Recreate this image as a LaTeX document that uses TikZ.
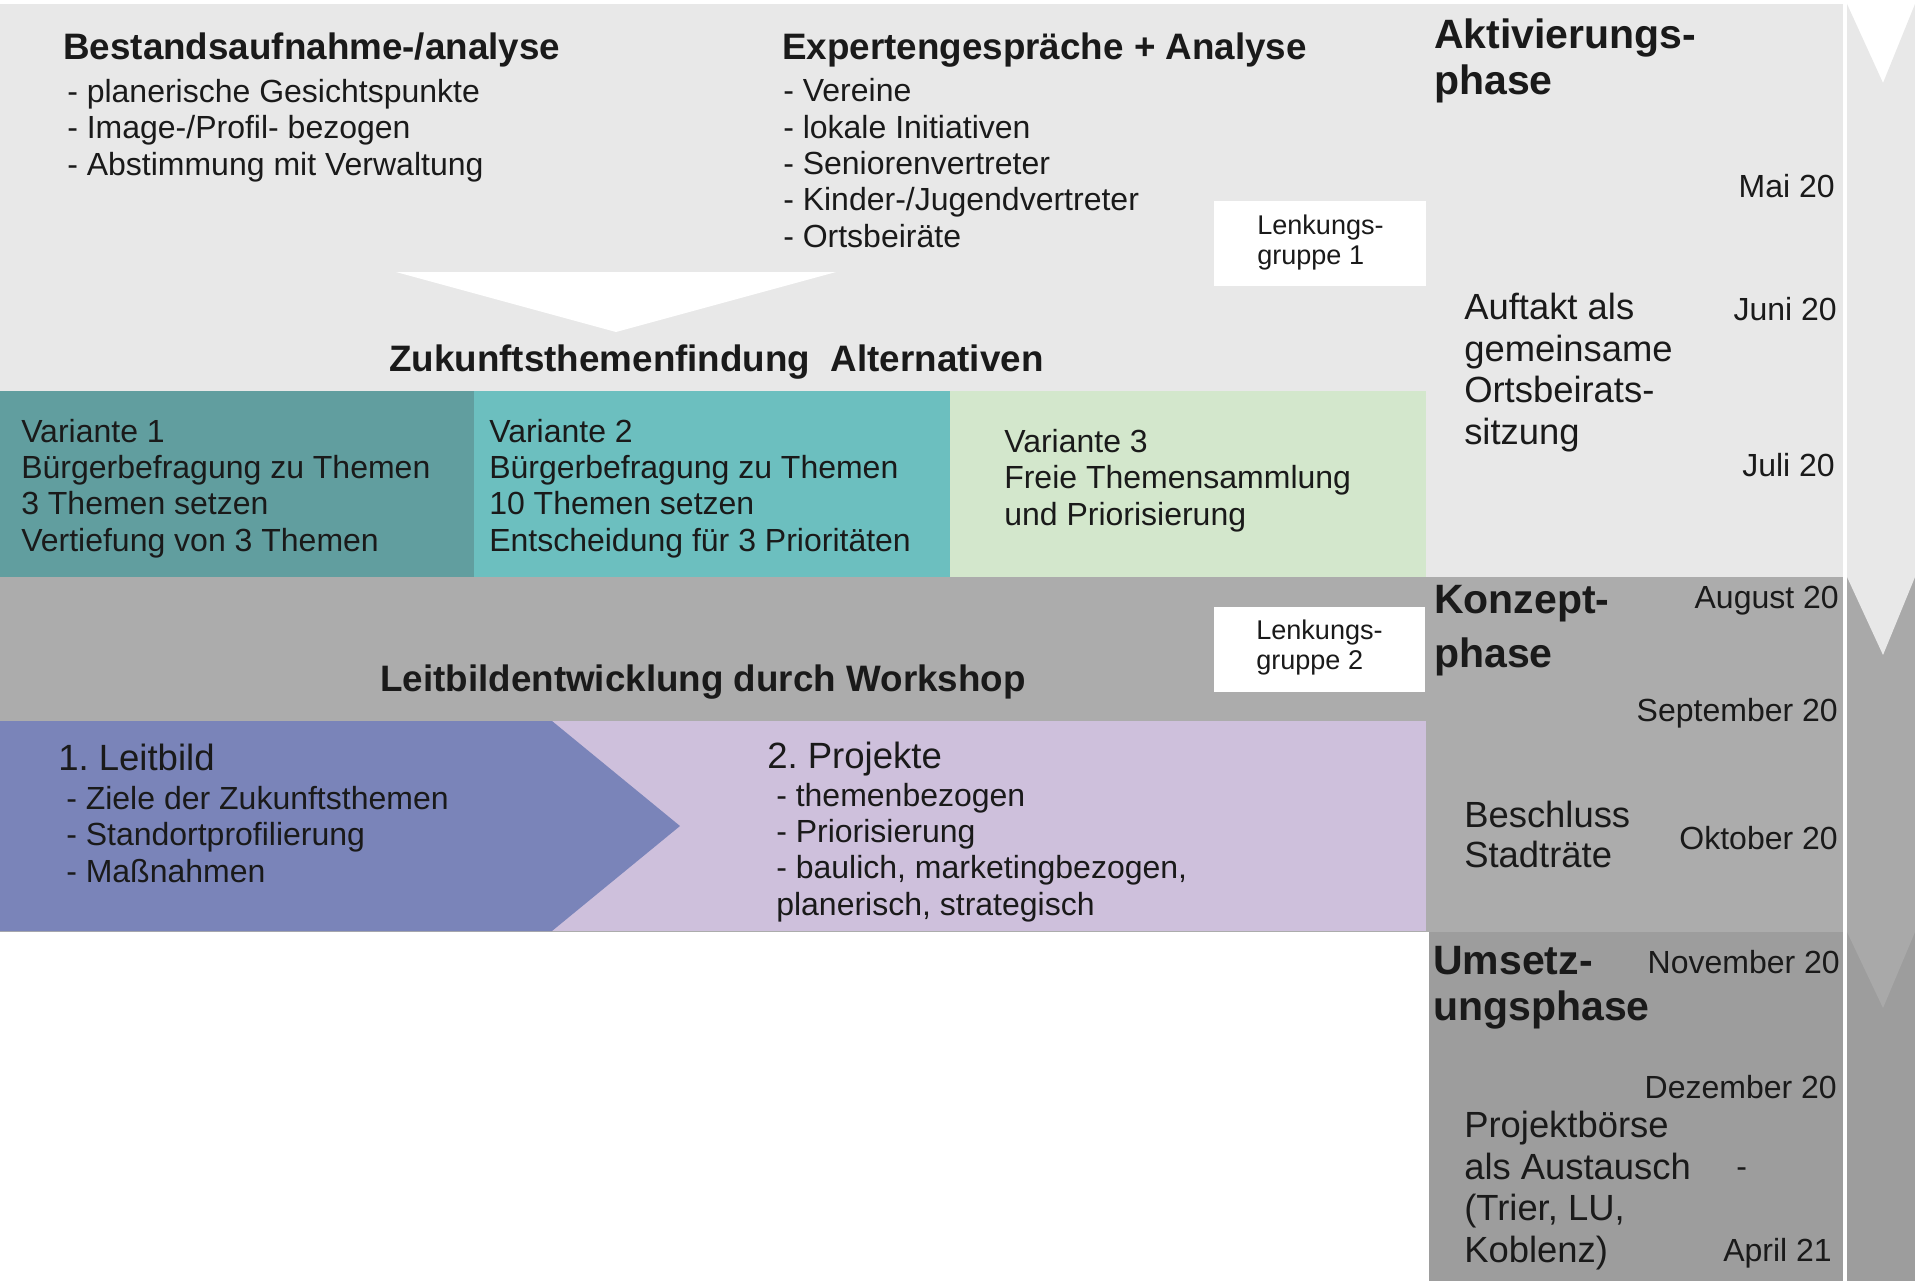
\documentclass[tikz,border=0pt]{standalone}
\usepackage{fontspec}
\setmainfont{Liberation Sans}
\usepackage{xcolor}
\usepackage{tikz}
\frenchspacing

\definecolor{ink}{RGB}{26,26,26}
\definecolor{lightpanel}{RGB}{232,232,232}
\definecolor{varone}{RGB}{97,158,159}
\definecolor{vartwo}{RGB}{108,191,191}
\definecolor{varthree}{RGB}{211,231,204}
\definecolor{midgray}{RGB}{172,172,172}
\definecolor{chevgray}{RGB}{169,169,169}
\definecolor{darkgray}{RGB}{157,157,157}
\definecolor{periwinkle}{RGB}{122,132,185}
\definecolor{lilac}{RGB}{206,192,220}

\begin{document}
\begin{tikzpicture}[x=0.75pt,y=0.75pt,yscale=-1,xscale=1,
  txt/.style={anchor=base west,inner sep=0.75pt,align=left,text=ink,font=\fontsize{24}{27.2}\selectfont},
  hd/.style={anchor=base west,inner sep=0.75pt,text=ink,font=\bfseries\fontsize{27.6}{33}\selectfont},
  big/.style={anchor=base west,inner sep=0.75pt,text=ink,font=\fontsize{27.4}{33}\selectfont},
  side/.style={anchor=base west,inner sep=0.75pt,align=left,text=ink,font=\fontsize{27.3}{31.1}\selectfont},
  phase/.style={anchor=base west,inner sep=0.75pt,align=left,text=ink,font=\bfseries\fontsize{30.75}{34.5}\selectfont},
  date/.style={anchor=base east,inner sep=0.75pt,text=ink,font=\fontsize{24}{28}\selectfont},
  lenk/.style={anchor=base west,inner sep=0.75pt,align=left,text=ink,font=\fontsize{20.3}{21.8}\selectfont}]

\useasboundingbox (0,0) rectangle (1915,1281);
\fill[white] (0,0) rectangle (1915,1281);

\fill[lightpanel] (0,4) rectangle (1843,577);

\fill[varone] (0,391) rectangle (474,577);

\fill[vartwo] (474,391) rectangle (950,577);

\fill[varthree] (950,391) rectangle (1426,577);

\fill[midgray] (0,577) rectangle (1843,932);

\fill[lilac] (0,721) rectangle (1426,931);

\fill[periwinkle] (0,721) -- (552,721) -- (680,826) -- (552,931) -- (0,931) -- cycle;

\fill[darkgray] (1429,932) rectangle (1843,1281);

\fill[white] (396,272) -- (836,272) -- (616,332) -- cycle;

\fill[white] (1214,201) rectangle (1426,286);

\fill[white] (1214,607) rectangle (1425,692);

\fill[darkgray] (1847,932) rectangle (1915,1281);

\fill[chevgray] (1847,577) -- (1915,577) -- (1915,932) -- (1883,1008) -- (1847,932) -- cycle;

\fill[lightpanel] (1847,4) -- (1883,83) -- (1915,4) -- (1915,577) -- (1883,655) -- (1847,577) -- cycle;


\draw (62,60) node [hd] (bestand) {Bestandsaufnahme-/analyse};

\draw (66,175) node [txt] (bestandliste) {- planerische Gesichtspunkte\\- Image-/Profil- bezogen\\- Abstimmung mit Verwaltung};

\draw (781,60) node [hd] (experten) {Expertengespräche + Analyse};

\draw (782,247) node [txt] (expertenliste) {- Vereine\\- lokale Initiativen\\- Seniorenvertreter\\- Kinder-/Jugendvertreter\\- Ortsbeiräte};

\draw (1256,264) node [lenk] (lenkeins) {Lenkungs-\\gruppe 1};

\draw (388,371) node [hd] (zukunft) {Zukunftsthemenfindung\ \ Alternativen};

\draw (20,551) node [txt] (varianteeins) {Variante 1\\Bürgerbefragung zu Themen\\3 Themen setzen\\Vertiefung von 3 Themen};

\draw (488,551) node [txt] (variantezwei) {Variante 2\\Bürgerbefragung zu Themen\\10 Themen setzen\\Entscheidung für 3 Prioritäten};

\draw (1003,525) node [txt] (variantedrei) {Variante 3\\Freie Themensammlung\\und Priorisierung};

\draw (379,691) node [hd] (leitbildent) {Leitbildentwicklung durch Workshop};

\draw (1255,669) node [lenk] (lenkzwei) {Lenkungs-\\gruppe 2};

\draw (57,770) node [big] (leitbild) {1. Leitbild};

\draw (65,882) node [txt] (leitbildliste) {- Ziele der Zukunftsthemen\\- Standortprofilierung\\- Maßnahmen};

\draw (766,768) node [big] (projekte) {2. Projekte};

\draw (775,915) node [txt] (projektliste) {- themenbezogen\\- Priorisierung\\- baulich, marketingbezogen,\\planerisch, strategisch};


\draw (1433,94) node [phase] (aktivierung) {Aktivierungs-\\phase};

\draw (1836,197) node [date] (mai) {Mai 20};

\draw (1463,444) node [side] (auftakt) {Auftakt als\\gemeinsame\\Ortsbeirats-\\sitzung};

\draw (1838,320) node [date] (juni) {Juni 20};

\draw (1836,476) node [date] (juli) {Juli 20};

\draw (1433,667) node [phase,font=\bfseries\fontsize{30.75}{40.5}\selectfont] (konzept) {Konzept-\\phase};

\draw (1840,608) node [date] (august) {August 20};

\draw (1839,721) node [date] (september) {September 20};

\draw (1463,867) node [side,font=\fontsize{27.3}{30}\selectfont] (beschluss) {Beschluss\\Stadträte};

\draw (1839,849) node [date] (oktober) {Oktober 20};

\draw (1432,1020) node [phase] (umsetzung) {Umsetz-\\ungsphase};

\draw (1841,973) node [date] (november) {November 20};

\draw (1838,1098) node [date] (dezember) {Dezember 20};

\draw (1463,1262) node [side] (boerse) {Projektbörse\\als Austausch\\(Trier, LU,\\Koblenz)};

\draw (1735,1177) node [txt] (bis) {-};

\draw (1833,1261) node [date] (april) {April 21};

\end{tikzpicture}
\end{document}
